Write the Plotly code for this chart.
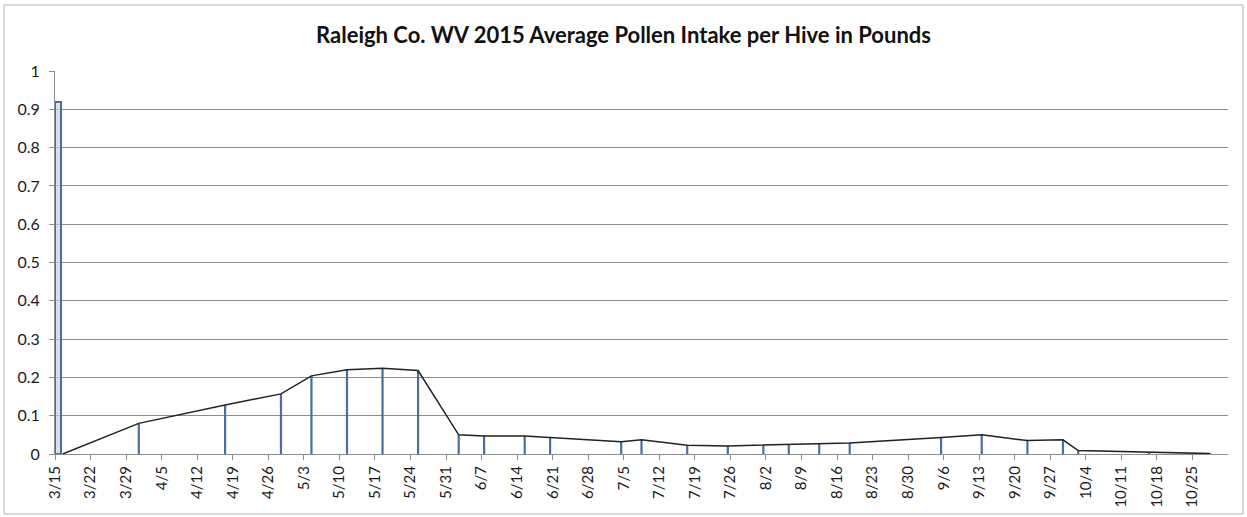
import pandas as pd
import plotly.graph_objects as go

title = "Raleigh Co. WV 2015 Average Pollen Intake per Hive in Pounds"

spike_dates = ["2015-03-15"]
spike_values = [0.92]

dates = ["2015-03-16", "2015-03-31", "2015-04-17", "2015-04-28", "2015-05-04",
         "2015-05-11", "2015-05-18", "2015-05-25", "2015-06-02", "2015-06-07",
         "2015-06-15", "2015-06-20", "2015-07-04", "2015-07-08", "2015-07-17",
         "2015-07-25", "2015-08-01", "2015-08-06", "2015-08-12", "2015-08-18",
         "2015-09-05", "2015-09-13", "2015-09-22", "2015-09-29", "2015-10-02",
         "2015-10-16", "2015-10-28"]
values = [0.0, 0.08, 0.128, 0.157, 0.204,
          0.220, 0.224, 0.218, 0.050, 0.047,
          0.047, 0.043, 0.032, 0.037, 0.023,
          0.021, 0.023, 0.026, 0.028, 0.029,
          0.043, 0.050, 0.035, 0.037, 0.009,
          0.004, 0.001]

tick_dates = pd.date_range("2015-03-15", "2015-10-25", freq="7D")
tick_labels = [f"{d.month}/{d.day}" for d in tick_dates]

# points are centred inside their day (Excel "between tick marks" date axis)
x_pts = pd.to_datetime(dates) + pd.Timedelta(hours=12)
x_spike = pd.to_datetime(spike_dates) + pd.Timedelta(hours=15)

drop_color = "#4a6e9e"
grid_color = "#8c8c8c"
font_family = "Lato, 'Open Sans', sans-serif"

fig = go.Figure()

# spike bar
fig.add_trace(go.Bar(
    x=x_spike, y=spike_values,
    width=30 * 3600 * 1000,
    marker=dict(color="rgba(200,212,230,0.7)", line=dict(color=drop_color, width=2)),
    hoverinfo="skip", showlegend=False,
))

# drop lines
fig.add_trace(go.Scatter(
    x=x_pts, y=values, mode="markers",
    marker=dict(size=1, opacity=0),
    error_y=dict(type="data", symmetric=False, array=[0] * len(values),
                 arrayminus=values, width=0, thickness=2.2, color=drop_color),
    hoverinfo="skip", showlegend=False,
))

# main line
fig.add_trace(go.Scatter(
    x=x_pts, y=values, mode="lines",
    line=dict(color="#222222", width=1.5),
    showlegend=False,
))

W, H = 1247, 517
ml, mr, mt, mb = 55, 19, 71, 63
pw, ph = W - ml - mr, H - mt - mb

def px_x(p):
    return (p - ml) / pw

def px_y(p):
    return (H - mb - p) / ph

fig.add_shape(type="rect", xref="paper", yref="paper",
              x0=px_x(4), x1=px_x(1243), y0=px_y(514), y1=px_y(5),
              line=dict(color="#b3b3b3", width=1), fillcolor="rgba(0,0,0,0)", layer="below")

fig.update_layout(
    width=W, height=H,
    margin=dict(l=ml, r=mr, t=mt, b=mb, autoexpand=False),
    paper_bgcolor="white", plot_bgcolor="white",
    title=dict(text="<b>" + title + "</b>", x=0.5, xref="container", xanchor="center",
               y=1 - 35 / H, yref="container", yanchor="middle",
               font=dict(family=font_family, size=22, color="#111111")),
    font=dict(family=font_family, size=15, color="#1a1a1a"),
    bargap=0,
)

fig.update_xaxes(
    type="date",
    range=["2015-03-15", "2015-11-01"],
    tickvals=tick_dates, ticktext=tick_labels,
    tickangle=-90,
    showgrid=False,
    showline=True, linecolor=grid_color, linewidth=1,
    ticks="outside", ticklen=5, tickcolor=grid_color,
    tickfont=dict(family=font_family, size=15, color="#1a1a1a"),
    zeroline=False, automargin=False,
)

fig.update_yaxes(
    range=[0, 1],
    dtick=0.1, tick0=0,
    showgrid=True, gridcolor=grid_color, gridwidth=1,
    showline=True, linecolor=grid_color, linewidth=1,
    ticks="outside", ticklen=5, tickcolor=grid_color,
    ticklabelstandoff=6,
    tickfont=dict(family=font_family, size=16, color="#1a1a1a"),
    zeroline=False, automargin=False,
)

fig.write_html("out.html",
               config={"displayModeBar": False},
               post_script="document.body.style.margin='0';document.body.style.overflow='hidden';")
